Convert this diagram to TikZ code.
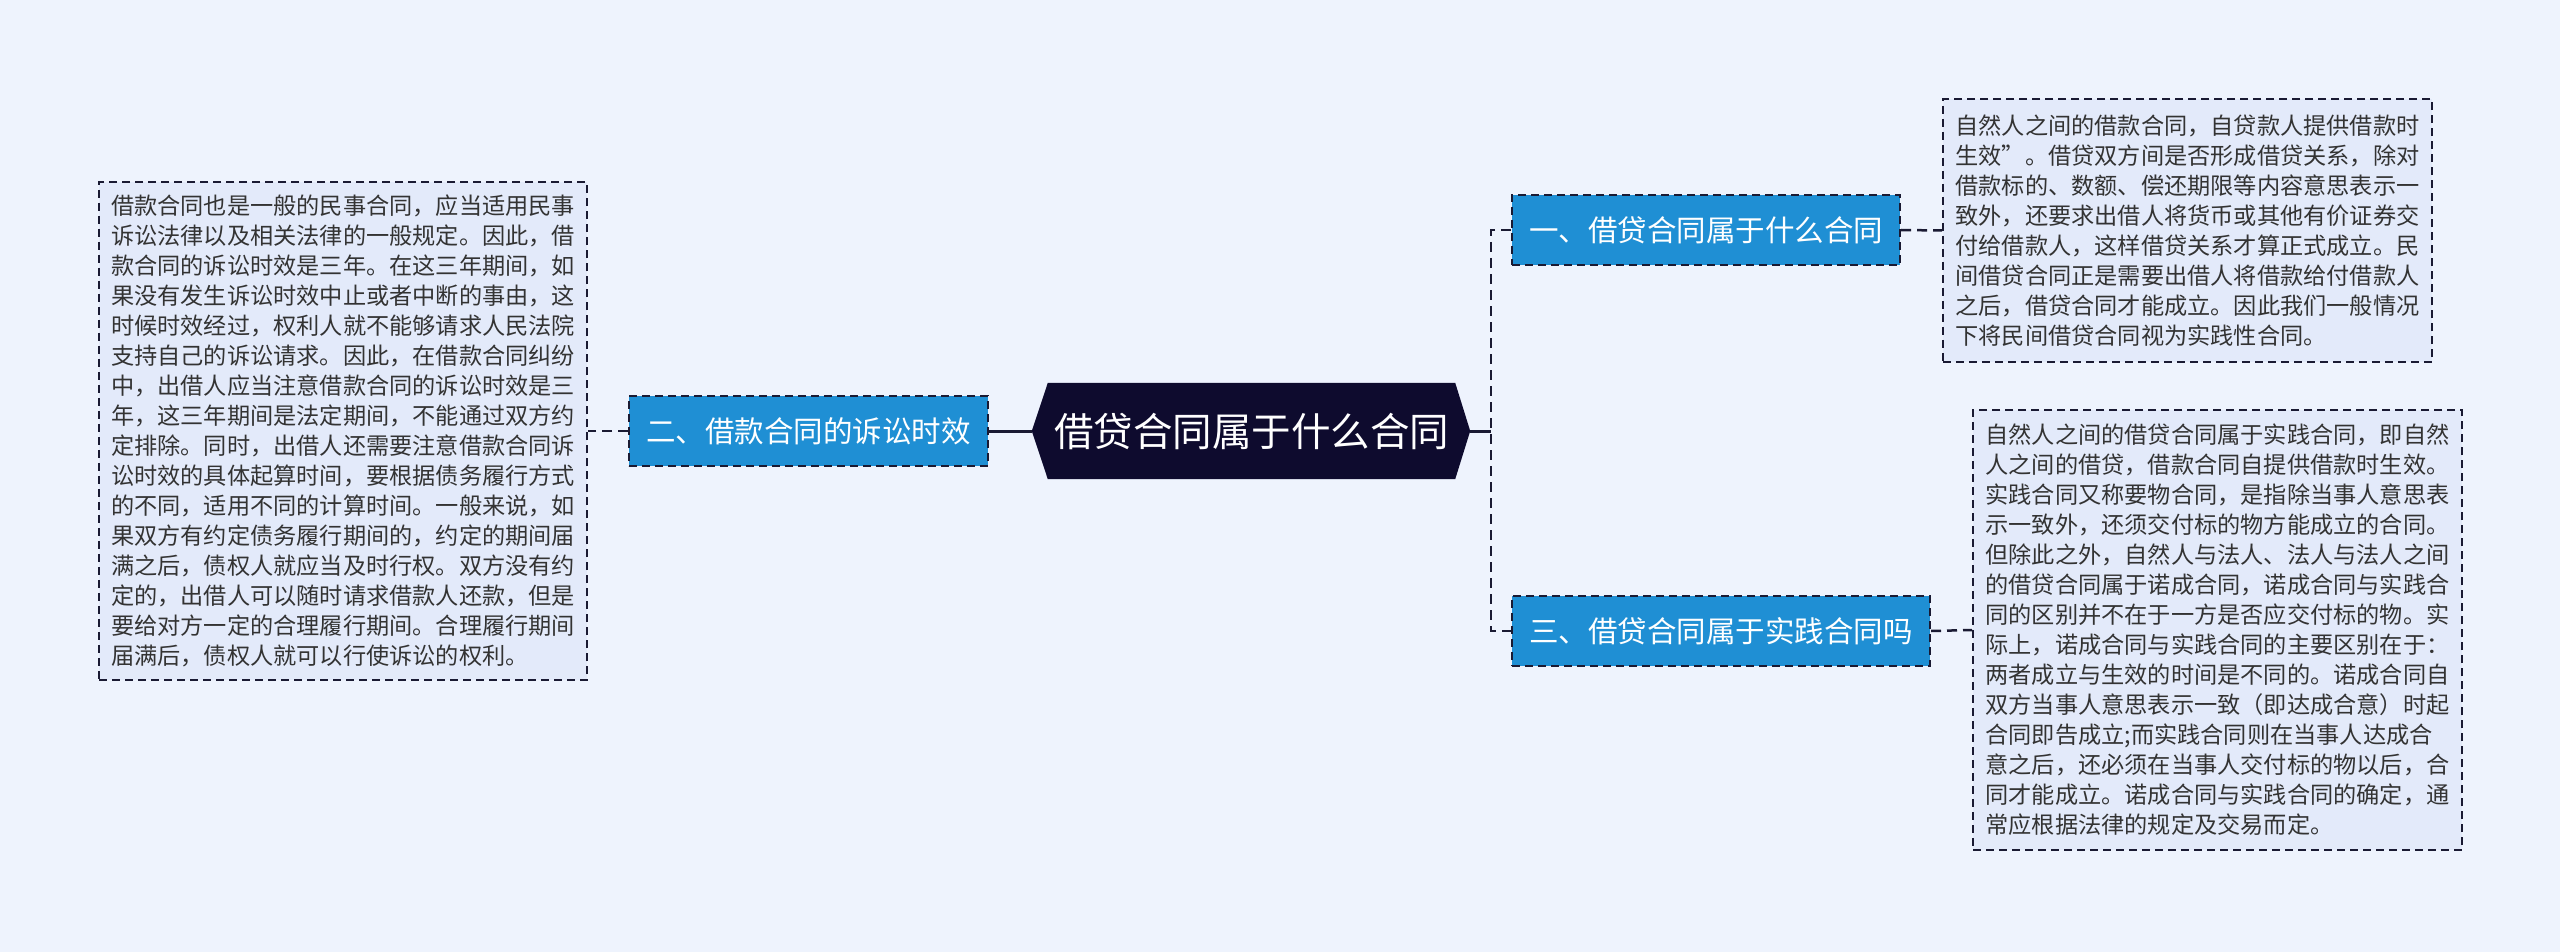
\documentclass[tikz,border=0pt]{standalone}
\usepackage{fontspec}
\setmainfont{Noto Sans CJK SC}
\usetikzlibrary{backgrounds}
\definecolor{bg}{HTML}{EEF3FD}
\definecolor{boxfill}{HTML}{E3EAFA}
\definecolor{navy}{HTML}{0E0B2E}
\definecolor{topic}{HTML}{1F8FD4}
\definecolor{edge}{HTML}{1A1A33}
\definecolor{txt}{HTML}{333333}
\begin{document}
\begin{tikzpicture}[x=1pt,y=-1pt,
  textbox/.style={draw=edge, line width=2pt, dash pattern=on 8pt off 5pt, fill=boxfill, inner sep=0pt, text=txt, font=\fontsize{23.2}{30}\selectfont, align=left},
  topicbox/.style={draw=edge, line width=2pt, dash pattern=on 8pt off 5pt, fill=topic, text=white, font=\fontsize{29.5}{34}\selectfont, inner sep=0pt, minimum height=70pt},
  rootbox/.style={text=white, font=\fontsize{39.5}{44}\selectfont, inner sep=0pt, minimum width=407pt, minimum height=96pt},
  link/.style={draw=edge, line width=3pt},
  dlink/.style={draw=edge, line width=2.5pt, dash pattern=on 10pt off 6pt}]
\begin{scope}[on background layer]
  \fill[bg] (0,0) rectangle (2560,952);
\end{scope}
\useasboundingbox (0,0) rectangle (2560,952);

% root
\node[rootbox] (c) at (1251.5,431) {借贷合同属于什么合同};
\coordinate (cl) at ([xshift=-16pt]c.west);
\coordinate (cr) at ([xshift=15pt]c.east);
\begin{scope}[on background layer]
  \fill[navy] (c.north west) -- (c.north east) -- (cr) -- (c.south east) -- (c.south west) -- (cl) -- cycle;
\end{scope}

% topics
\node[topicbox, minimum width=359pt] (n2) at (808.5,431) {二、借款合同的诉讼时效};
\node[topicbox, minimum width=388pt] (n1) at (1706,230) {一、借贷合同属于什么合同};
\node[topicbox, minimum width=418pt] (n3) at (1721,631) {三、借贷合同属于实践合同吗};

% text boxes
\node[textbox, minimum width=488pt, minimum height=498pt] (t2) at (343,431) {借款合同也是一般的民事合同，应当适用民事\\
诉讼法律以及相关法律的一般规定。因此，借\\
款合同的诉讼时效是三年。在这三年期间，如\\
果没有发生诉讼时效中止或者中断的事由，这\\
时候时效经过，权利人就不能够请求人民法院\\
支持自己的诉讼请求。因此，在借款合同纠纷\\
中，出借人应当注意借款合同的诉讼时效是三\\
年，这三年期间是法定期间，不能通过双方约\\
定排除。同时，出借人还需要注意借款合同诉\\
讼时效的具体起算时间，要根据债务履行方式\\
的不同，适用不同的计算时间。一般来说，如\\
果双方有约定债务履行期间的，约定的期间届\\
满之后，债权人就应当及时行权。双方没有约\\
定的，出借人可以随时请求借款人还款，但是\\
要给对方一定的合理履行期间。合理履行期间\\
届满后，债权人就可以行使诉讼的权利。};

\node[textbox, minimum width=489pt, minimum height=263pt] (t1) at (2187.5,230.5) {自然人之间的借款合同，自贷款人提供借款时\\
生效”。借贷双方间是否形成借贷关系，除对\\
借款标的、数额、偿还期限等内容意思表示一\\
致外，还要求出借人将货币或其他有价证券交\\
付给借款人，这样借贷关系才算正式成立。民\\
间借贷合同正是需要出借人将借款给付借款人\\
之后，借贷合同才能成立。因此我们一般情况\\
下将民间借贷合同视为实践性合同。};

\node[textbox, minimum width=489pt, minimum height=440pt] (t3) at (2217.5,630) {自然人之间的借贷合同属于实践合同，即自然\\
人之间的借贷，借款合同自提供借款时生效。\\
实践合同又称要物合同，是指除当事人意思表\\
示一致外，还须交付标的物方能成立的合同。\\
但除此之外，自然人与法人、法人与法人之间\\
的借贷合同属于诺成合同，诺成合同与实践合\\
同的区别并不在于一方是否应交付标的物。实\\
际上，诺成合同与实践合同的主要区别在于：\\
两者成立与生效的时间是不同的。诺成合同自\\
双方当事人意思表示一致（即达成合意）时起\\
合同即告成立;而实践合同则在当事人达成合\\
意之后，还必须在当事人交付标的物以后，合\\
同才能成立。诺成合同与实践合同的确定，通\\
常应根据法律的规定及交易而定。};

% connectors
\coordinate (j) at (1491,431);
\draw[link] (cl) -- (n2.east);
\draw[dlink] (n2.west) -- (t2.east);
\draw[link] (cr) -- (j);
\draw[dlink] (n1.west) -| (j) |- (n3.west);
\draw[dlink] (n1.east) -- (t1.west);
\draw[dlink] (n3.east) -- (t3.west);
\end{tikzpicture}
\end{document}
